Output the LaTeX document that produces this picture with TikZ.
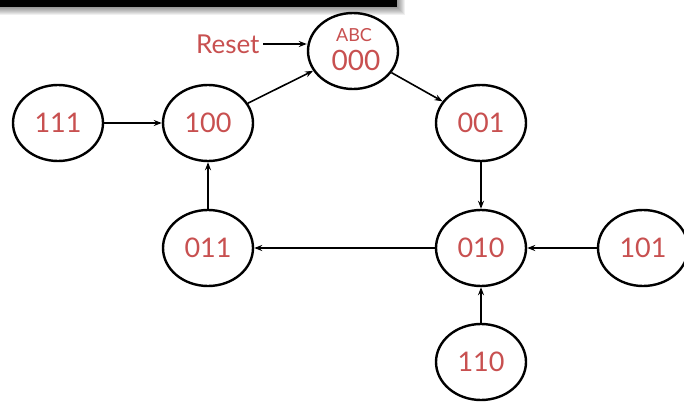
\documentclass[tikz,border=0pt]{standalone}
\usepackage{fontspec}
\setmainfont{Lato}
\usetikzlibrary{shapes.geometric,arrows.meta}
\definecolor{txtred}{RGB}{200,80,80}
\tikzset{
  state/.style={ellipse,draw=black,line width=2.4pt,minimum width=90pt,minimum height=76pt,inner sep=0pt,text=txtred,font=\fontsize{27}{28}\selectfont},
  conn/.style={line width=1.6pt,-{Stealth[length=8pt,width=6pt]}}
}
\begin{document}
\begin{tikzpicture}[x=1pt,y=-1pt]
\useasboundingbox (0,0) rectangle (684,403);
\fill[white] (0,0) rectangle (684,403);
% shadow bar
\foreach \i/\o in {1/0.06,2/0.06,3/0.06,4/0.06,5/0.06,6/0.06,7/0.06,8/0.06}{
  \fill[black,opacity=\o] (0,0) rectangle (397+\i,7+\i);
}
\fill[black] (0,0) rectangle (397,7);
% states
\node[state] (s000) at (353,51) {};
\node[text=txtred,font=\fontsize{18}{19}\selectfont] (abc) at (354,35) {ABC};
\node[text=txtred,font=\fontsize{28}{29}\selectfont] (zzz) at (356,60) {000};
\node[state] (s111) at (58,123) {111};
\node[state] (s100) at (208,123) {100};
\node[state] (s001) at (481,123) {001};
\node[state] (s011) at (208,248) {011};
\node[state] (s010) at (481,248) {010};
\node[state] (s101) at (643,248) {101};
\node[state] (s110) at (481,362) {110};
\node[text=txtred,font=\fontsize{26}{28}\selectfont,anchor=east] (reset) at (263,44) {Reset};
% connectors
\draw[conn] (reset.east) -- (s000.west |- reset.east);
\draw[conn] (s111) -- (s100);
\draw[conn] (s100) -- (s000);
\draw[conn] (s000) -- (s001);
\draw[conn] (s001) -- (s010);
\draw[conn] (s010) -- (s011);
\draw[conn] (s101) -- (s010);
\draw[conn] (s110) -- (s010);
\draw[conn] (s011) -- (s100);
\end{tikzpicture}
\end{document}
